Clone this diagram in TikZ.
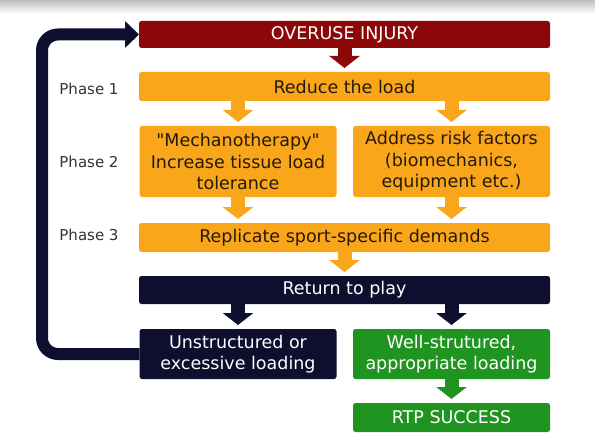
\documentclass[tikz,border=0pt]{standalone}
\usepackage{fontspec}
\setmainfont{DejaVu Sans}
\usetikzlibrary{arrows.meta}
\definecolor{injred}{RGB}{140,8,8}
\definecolor{phaseor}{RGB}{250,166,26}
\definecolor{navyblk}{RGB}{14,14,46}
\definecolor{okgreen}{RGB}{32,148,32}
\definecolor{ortext}{RGB}{36,26,10}
\definecolor{phasetxt}{RGB}{50,50,58}
\begin{document}
\begin{tikzpicture}[x=1pt, y=-1pt,
    box/.style={inner sep=0pt, outer sep=0pt, rounded corners=2.5pt, align=center,
        font=\fontsize{17.5}{21.5}\selectfont},
    wide/.style={box, minimum width=411pt},
    half/.style={box, minimum width=197pt},
    redbox/.style={fill=injred, text=white},
    orbox/.style={fill=phaseor, text=ortext},
    navbox/.style={fill=navyblk, text=white},
    grnbox/.style={fill=okgreen, text=white},
    phase/.style={text=phasetxt, font=\fontsize{15}{18}\selectfont},
    blk/.style={draw=#1, line width=14pt, shorten >=4pt, -{Triangle[width=30pt,length=12pt]}},
    backloop/.style={draw=navyblk, line width=12pt, rounded corners=16pt, -{Triangle[width=26pt,length=14pt]}}]
\useasboundingbox (0,0) rectangle (595,436);
\shade[top color=gray!50, bottom color=white] (0,0) rectangle (595,14);

% boxes
\node[wide, redbox, minimum height=27pt] (injury) at (344.5,34.5) {OVERUSE INJURY};
\node[wide, orbox, minimum height=29pt] (reduce) at (344.5,86.5) {Reduce the load};
\node[half, orbox, minimum height=71pt] (mech) at (238,161.5) {\textquotedbl Mechanotherapy\textquotedbl\\Increase tissue load\\tolerance};
\node[half, orbox, minimum height=71pt] (risk) at (451.5,161.5) {Address risk factors\\(biomechanics,\\equipment etc.)};
\node[wide, orbox, minimum height=29pt] (replicate) at (344.5,237.5) {Replicate sport-specific demands};
\node[wide, navbox, minimum height=28pt] (rtp) at (344.5,290) {Return to play};
\node[half, navbox, minimum height=50pt] (unstr) at (238,354) {Unstructured or\\excessive loading};
\node[half, grnbox, minimum height=50pt] (wellstr) at (451.5,354) {Well-strutured,\\appropriate loading};
\node[half, grnbox, minimum height=29pt] (success) at (451.5,417.5) {RTP SUCCESS};

\node[phase] (ph1) at (89,89) {Phase 1};
\node[phase] (ph2) at (89,162) {Phase 2};
\node[phase] (ph3) at (89,235) {Phase 3};

% block arrows
\draw[blk=injred] (injury.south) -- (reduce.north);
\foreach \n in {mech,risk}
{
    \draw[blk=phaseor] (reduce.south -| \n) -- (\n.north);
    \draw[blk=phaseor] (\n.south) -- (replicate.north -| \n);
}
\draw[blk=phaseor] (replicate.south) -- (rtp.north);
\foreach \n in {unstr,wellstr}
    \draw[blk=navyblk] (rtp.south -| \n) -- (\n.north);
\draw[blk=okgreen] (wellstr.south) -- (success.north);

% back to the start
\coordinate (corner) at ([xshift=-97pt]injury.west);
\draw[backloop] (unstr.west) -| (corner) -- (injury.west);
\end{tikzpicture}
\end{document}
